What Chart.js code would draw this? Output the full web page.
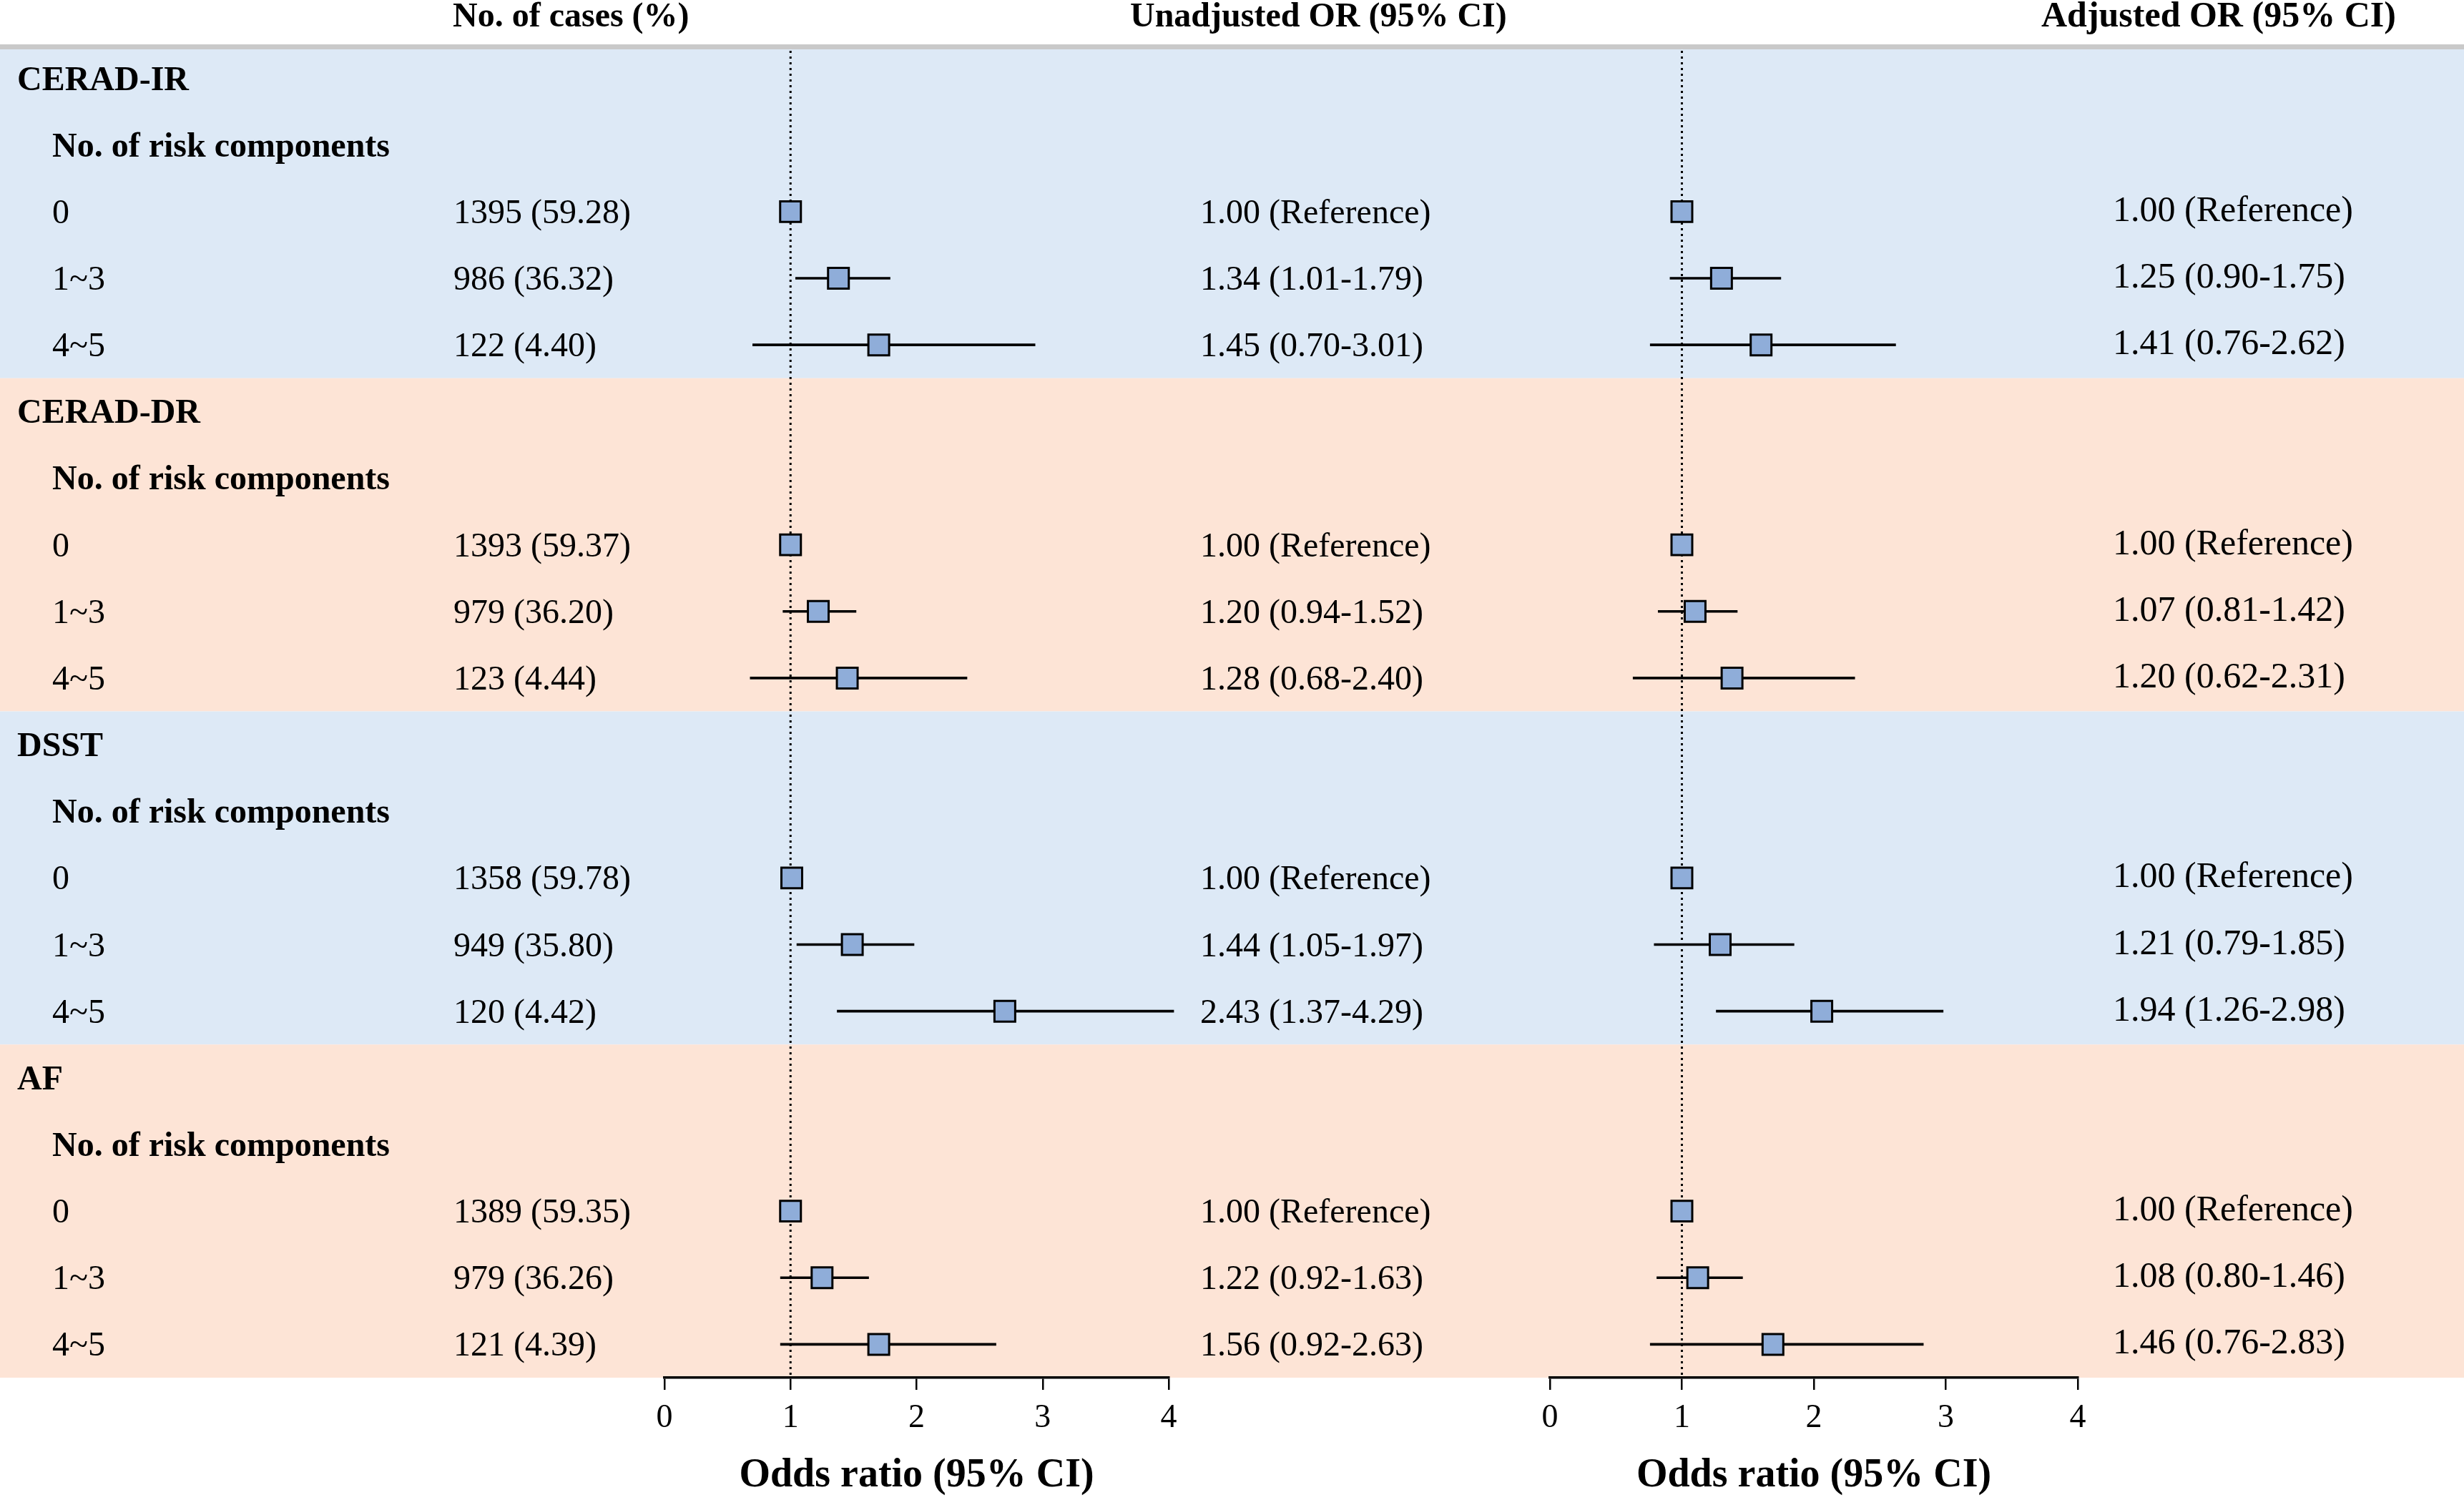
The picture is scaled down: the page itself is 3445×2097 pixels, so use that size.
<!DOCTYPE html>
<html lang="en">
<head>
    <meta charset="UTF-8">
    <title>Risk components and odds ratios</title>
    <script src="https://cdn.jsdelivr.net/npm/chart.js"></script>
    <style>
        body {
            margin: 0;
            padding: 0;
            background-color: #fff;
        }
        #wrap {
            position: relative;
            width: 3445px;
            height: 2097px;
        }
        #wrap canvas {
            position: absolute;
            left: 0;
            top: 0;
        }
    </style>
</head>
<body>
<div id="wrap">
    <canvas id="graficaNoAjustada" width="3445" height="2097"></canvas>
    <canvas id="graficaAjustada" width="3445" height="2097"></canvas>
</div>

<script>
    // Datos de la tabla
    const grupos = ['CERAD-IR', 'CERAD-DR', 'DSST', 'AF'];
    const subtitulo = 'No. of risk components';
    const niveles = ['0', '1~3', '4~5'];

    const casos = [
        '1395 (59.28)', '986 (36.32)', '122 (4.40)',
        '1393 (59.37)', '979 (36.20)', '123 (4.44)',
        '1358 (59.78)', '949 (35.80)', '120 (4.42)',
        '1389 (59.35)', '979 (36.26)', '121 (4.39)'
    ];
    const textoNoAjustado = [
        '1.00 (Reference)', '1.34 (1.01-1.79)', '1.45 (0.70-3.01)',
        '1.00 (Reference)', '1.20 (0.94-1.52)', '1.28 (0.68-2.40)',
        '1.00 (Reference)', '1.44 (1.05-1.97)', '2.43 (1.37-4.29)',
        '1.00 (Reference)', '1.22 (0.92-1.63)', '1.56 (0.92-2.63)'
    ];
    const textoAjustado = [
        '1.00 (Reference)', '1.25 (0.90-1.75)', '1.41 (0.76-2.62)',
        '1.00 (Reference)', '1.07 (0.81-1.42)', '1.20 (0.62-2.31)',
        '1.00 (Reference)', '1.21 (0.79-1.85)', '1.94 (1.26-2.98)',
        '1.00 (Reference)', '1.08 (0.80-1.46)', '1.46 (0.76-2.83)'
    ];

    // Valores tal como aparecen dibujados (cuadro e intervalo)
    const orNoAjustado = [1.00, 1.38, 1.70, 1.00, 1.22, 1.45, 1.01, 1.49, 2.70, 1.00, 1.25, 1.70];
    const infNoAjustado = [null, 1.04, 0.70, null, 0.94, 0.68, null, 1.05, 1.37, null, 0.92, 0.92];
    const supNoAjustado = [null, 1.79, 2.94, null, 1.52, 2.40, null, 1.98, 4.04, null, 1.62, 2.63];

    const orAjustado = [1.00, 1.30, 1.60, 1.00, 1.10, 1.38, 1.00, 1.29, 2.06, 1.00, 1.12, 1.69];
    const infAjustado = [null, 0.91, 0.76, null, 0.82, 0.63, null, 0.79, 1.26, null, 0.81, 0.76];
    const supAjustado = [null, 1.75, 2.62, null, 1.42, 2.31, null, 1.85, 2.98, null, 1.46, 2.83];

    const ticksX = [0, 1, 2, 3, 4];
    const encabezados = ['No. of cases (%)', 'Unadjusted OR (95% CI)', 'Adjusted OR (95% CI)'];
    const tituloEje = 'Odds ratio (95% CI)';

    const FUENTE = '"Liberation Serif", "Times New Roman", serif';
    const AZUL = '#dde9f6';
    const NARANJA = '#fde4d6';

    // Filas: cabecera de grupo, subtítulo y tres niveles por grupo
    const etiquetasFilas = [];
    grupos.forEach(g => {
        etiquetasFilas.push(g, subtitulo, ...niveles);
    });

    // Expandir un arreglo de 12 valores a las 20 filas
    function aFilas(valores) {
        const out = [];
        grupos.forEach((g, i) => {
            out.push(null, null);
            for (let k = 0; k < 3; k++) out.push(valores[i * 3 + k]);
        });
        return out;
    }

    function intervalos(inf, sup) {
        return aFilas(inf.map((v, i) => v === null ? null : [v, sup[i]]));
    }

    // Línea punteada en OR = 1
    const lineaReferencia = {
        id: 'lineaReferencia',
        beforeDatasetsDraw(chart) {
            const {ctx, chartArea, scales: {x}} = chart;
            const px = x.getPixelForValue(1);
            ctx.save();
            ctx.strokeStyle = '#000';
            ctx.lineWidth = 3;
            ctx.setLineDash([3, 5]);
            ctx.beginPath();
            ctx.moveTo(px, chartArea.top + 8);
            ctx.lineTo(px, chartArea.bottom);
            ctx.stroke();
            ctx.restore();
        }
    };

    // Fondo por bandas, encabezados y columnas de texto
    const tabla = {
        id: 'tabla',
        beforeDraw(chart) {
            const {ctx, width, height, chartArea, scales: {y}} = chart;
            const h = y.getPixelForValue(1) - y.getPixelForValue(0);
            ctx.save();
            ctx.fillStyle = '#fff';
            ctx.fillRect(0, 0, width, height);
            grupos.forEach((g, i) => {
                const t = y.getPixelForValue(i * 5) - h / 2;
                const b = y.getPixelForValue(i * 5 + 4) + h / 2;
                ctx.fillStyle = i % 2 ? NARANJA : AZUL;
                ctx.fillRect(0, t, width, b - t);
            });
            ctx.fillStyle = '#c9c9c9';
            ctx.fillRect(0, chartArea.top - 1, width, 7);

            ctx.fillStyle = '#000';
            ctx.textBaseline = 'alphabetic';
            ctx.textAlign = 'left';
            ctx.font = 'bold 48px ' + FUENTE;
            ctx.fillText(encabezados[0], 633, 37);
            ctx.fillText(encabezados[1], 1580, 37);
            ctx.font = 'bold 50px ' + FUENTE;
            ctx.fillText(encabezados[2], 2854, 37);
            ctx.restore();
        },
        beforeDatasetsDraw(chart) {
            const {ctx, scales: {y}} = chart;
            const cas = aFilas(casos);
            const noAj = aFilas(textoNoAjustado);
            const aj = aFilas(textoAjustado);
            ctx.save();
            ctx.fillStyle = '#000';
            ctx.textBaseline = 'alphabetic';
            ctx.textAlign = 'left';
            etiquetasFilas.forEach((etiqueta, r) => {
                const py = y.getPixelForValue(r) + 16;
                const k = r % 5;
                if (k === 0) {
                    ctx.font = 'bold 48px ' + FUENTE;
                    ctx.fillText(etiqueta, 24, py);
                } else if (k === 1) {
                    ctx.font = 'bold 48px ' + FUENTE;
                    ctx.fillText(etiqueta, 73, py);
                } else {
                    ctx.font = '48px ' + FUENTE;
                    ctx.fillText(etiqueta, 73, py);
                    ctx.fillText(cas[r], 634, py);
                    ctx.fillText(noAj[r], 1678, py);
                    ctx.font = '50px ' + FUENTE;
                    ctx.fillText(aj[r], 2954, py - 3);
                }
            });
            ctx.restore();
        }
    };

    function opcionesForest(izquierda, derecha) {
        return {
            responsive: false,
            animation: false,
            indexAxis: 'y',
            layout: {
                padding: { left: izquierda, right: derecha, top: 63, bottom: 0 }
            },
            plugins: {
                legend: { display: false },
                tooltip: { enabled: false }
            },
            scales: {
                y: {
                    type: 'category',
                    display: false,
                    offset: true
                },
                x: {
                    type: 'linear',
                    min: ticksX[0],
                    max: ticksX[ticksX.length - 1],
                    afterBuildTicks: (s) => { s.ticks = ticksX.map(v => ({ value: v })); },
                    afterFit: (s) => { s.height = 171; },
                    ticks: {
                        color: '#000',
                        padding: 12,
                        font: { family: FUENTE, size: 46 }
                    },
                    grid: {
                        drawOnChartArea: false,
                        drawTicks: true,
                        tickLength: 17,
                        color: '#000',
                        lineWidth: 2.5
                    },
                    border: { display: true, color: '#000', width: 3.5 },
                    title: {
                        display: true,
                        text: tituloEje,
                        color: '#000',
                        padding: { top: 0, bottom: 0 },
                        font: { family: FUENTE, size: 56, weight: 'bold' }
                    }
                }
            }
        };
    }

    function datosForest(or, inf, sup) {
        return {
            labels: etiquetasFilas,
            datasets: [{
                type: 'line',
                indexAxis: 'y',
                data: aFilas(or),
                showLine: false,
                pointStyle: 'rect',
                pointRadius: 20.5,
                pointHoverRadius: 20.5,
                pointBackgroundColor: '#8fadd9',
                pointBorderColor: '#000',
                pointBorderWidth: 3,
                clip: false,
                order: 0
            }, {
                type: 'bar',
                indexAxis: 'y',
                data: intervalos(inf, sup),
                backgroundColor: '#000',
                borderWidth: 0,
                barThickness: 3,
                clip: false,
                order: 1
            }]
        };
    }

    new Chart(document.getElementById('graficaNoAjustada').getContext('2d'), {
        type: 'bar',
        data: datosForest(orNoAjustado, infNoAjustado, supNoAjustado),
        options: opcionesForest(929, 3445 - 1634),
        plugins: [tabla, lineaReferencia]
    });

    new Chart(document.getElementById('graficaAjustada').getContext('2d'), {
        type: 'bar',
        data: datosForest(orAjustado, infAjustado, supAjustado),
        options: opcionesForest(2167, 3445 - 2905),
        plugins: [lineaReferencia]
    });
</script>
</body>
</html>
